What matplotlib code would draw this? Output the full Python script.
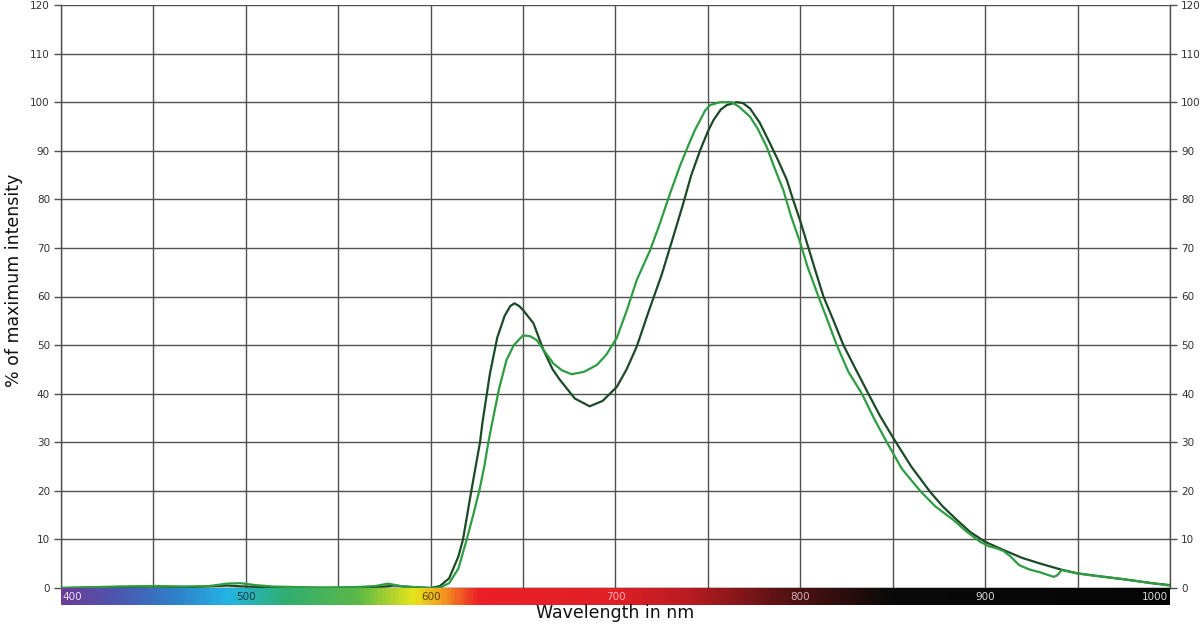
import numpy as np
import matplotlib.pyplot as plt
from matplotlib.colors import LinearSegmentedColormap

# wavelength (nm) and % of maximum intensity
wl_dark = [400, 430, 450, 470, 490, 500, 520, 550, 575, 580, 590, 600, 605,
           610, 615, 617.5, 622, 626.7, 628, 632, 636, 640, 643, 645.3, 648,
           650, 655.6, 661, 666, 670, 678, 686, 693, 700.7, 706, 711.5, 718,
           725, 731, 736.7, 741, 745.8, 750, 753, 757, 760.2, 765.6, 769,
           772.8, 778, 783.6, 788, 792.7, 796, 800, 804, 808, 812.5, 818,
           823.3, 830, 836.8, 843, 850.4, 860, 870.2, 877, 884.7, 892, 900,
           910, 920, 930, 941, 950, 960, 975, 990, 1000]
int_dark = [0, 0.2, 0.3, 0.2, 0.5, 0.3, 0.1, 0, 0.3, 0.5, 0.2, 0, 0.4,
            2, 6.5, 10, 20, 30, 34, 44, 51.5, 56, 58, 58.6, 58, 57.2, 54.5,
            49, 45, 42.8, 39, 37.4, 38.5, 41.4, 45, 49.7, 57, 64.5, 72,
            79.2, 85, 90.1, 94, 96.3, 98.5, 99.4, 100, 99.8, 98.7, 95.8,
            91.5, 88, 84, 80, 75.5, 70.5, 65.5, 60, 55, 50, 45, 40, 35.5,
            30.8, 25, 19.8, 16.8, 14, 11.5, 9.5, 7.8, 6.2, 5, 3.8, 3.0, 2.5,
            1.8, 1.0, 0.6]

wl_light = [400, 430, 450, 465, 480, 490, 497, 505, 515, 540, 560, 570,
            577, 585, 600, 605, 610, 615, 619.5, 623, 626.3, 629, 631.2,
            633.6, 637, 641, 645, 650, 654, 657.4, 662, 666.4, 671, 676.3,
            683, 689.9, 695, 700.7, 706, 711.5, 718.7, 724, 729.5, 735,
            739.4, 743, 745.8, 748.5, 751.2, 756.6, 762.9, 767, 772.8, 777,
            781.8, 786, 790.8, 795, 800, 804, 809.8, 815, 819.7, 826, 833.3,
            840, 846.8, 855, 864.8, 873, 882.8, 890, 897.3, 902, 906, 910,
            914, 918.4, 924, 930, 937, 939, 941.4, 950, 960, 975, 990, 1000]
int_light = [0, 0.3, 0.4, 0.3, 0.4, 0.9, 1.0, 0.6, 0.3, 0.1, 0.2, 0.4,
             0.9, 0.3, 0, 0.1, 1, 4, 10, 15, 20, 25, 30, 34.6, 41, 46.9,
             50, 52, 51.8, 51, 48.5, 46.2, 44.8, 44, 44.5, 45.9, 48, 51.5,
             57, 63.4, 69.5, 75, 81.2, 87, 91.1, 94.3, 96.3, 98.3, 99.4, 100,
             100, 99, 97, 94.5, 90.8, 86.5, 81.9, 76.5, 71, 66, 60, 54.8, 50,
             44.5, 40, 34.8, 30, 24.5, 20, 16.8, 14, 11.6, 9.5, 8.6, 8.2, 7.6,
             6.4, 4.7, 3.8, 3.2, 2.3, 2.6, 3.7, 3.0, 2.5, 1.8, 1.0, 0.5]

# colours of the wavelength strip under the plot
spectrum_nm = [400, 430, 460, 490, 520, 560, 590, 605, 625, 700, 740, 790,
               850, 1000]
spectrum_col = ['#6b3d98', '#4c57b0', '#2f7fc9', '#25b5e3', '#2fae72',
                '#5cb847', '#e6e51a', '#f4a020', '#ec2027', '#e01f26',
                '#b81c22', '#5a1212', '#0a0a0a', '#050505']

strip_labels = ['400', '500', '600', '700', '800', '900', '1000']
strip_pos = [400, 500, 600, 700, 800, 900, 1000]
strip_label_col = ['#e8e0f0', '#1a3a40', '#5a4a00', '#ffb0b0', '#d0b0b0',
                   '#d8d8d8', '#d8d8d8']

fig = plt.figure(figsize=(12, 6.26), dpi=100)
W, H = 1200, 626
left, right, top, bottom = 61, 1170, 5, 588
ax = fig.add_axes([left / W, 1 - bottom / H, (right - left) / W,
                   (bottom - top) / H])

grid_col = '#505050'
ax.plot(wl_dark, int_dark, color='#1c4a27', lw=1.6, zorder=3)
ax.plot(wl_light, int_light, color='#2e9c42', lw=1.6, zorder=4)

ax.set_xlim(400, 1000)
ax.set_ylim(0, 120)
ax.set_xticks(np.arange(400, 1001, 50))
ax.set_yticks(np.arange(0, 121, 10))
ax.grid(True, color=grid_col, lw=1.0)
ax.tick_params(axis='x', length=0, labelbottom=False)
ax.tick_params(axis='y', direction='out', length=5, width=1,
               color=grid_col, labelsize=7.5, labelcolor='#333333',
               left=True, right=True, labelleft=True, labelright=True,
               pad=3)
for s in ax.spines.values():
    s.set_color(grid_col)
    s.set_linewidth(1.0)
ax.spines['top'].set_visible(False)

fig.text(14 / W, 1 - 280 / H, '% of maximum intensity', fontsize=12.5,
         rotation=90, ha='center', va='center', color='#111111')

# wavelength colour strip
cax = fig.add_axes([left / W, 1 - 605 / H, (right - left) / W, 17 / H])
cmap = LinearSegmentedColormap.from_list(
    'spec', [((n - 400) / 600, c) for n, c in zip(spectrum_nm, spectrum_col)])
grad = np.linspace(0, 1, 600).reshape(1, -1)
cax.imshow(grad, aspect='auto', cmap=cmap, extent=[400, 1000, 0, 1])
cax.set_xlim(400, 1000)
cax.set_axis_off()
for pos, lab, col in zip(strip_pos, strip_labels, strip_label_col):
    ha = 'center'
    x = pos
    if pos == 400:
        ha, x = 'left', 401
    elif pos == 1000:
        ha, x = 'right', 999
    cax.text(x, 0.45, lab, color=col, fontsize=7.5, ha=ha, va='center')

fig.text(615 / W, 1 - 613 / H, 'Wavelength in nm', fontsize=12.5,
         ha='center', va='center', color='#111111')

fig.savefig('out.png', dpi=100)
